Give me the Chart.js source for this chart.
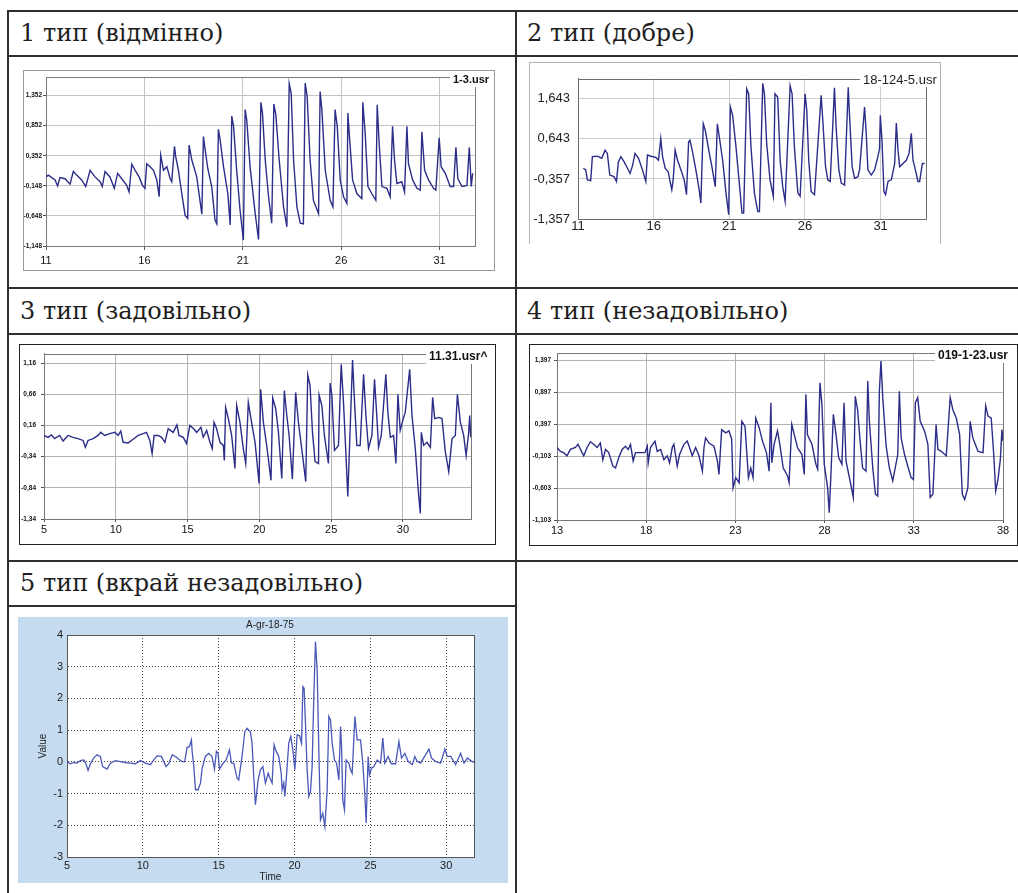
<!DOCTYPE html>
<html lang="uk">
<head>
<meta charset="utf-8">
<title>Типи кривих</title>
<script src="https://cdn.jsdelivr.net/npm/chart.js@4.4.1/dist/chart.umd.min.js"></script>
<style>
  html, body { margin: 0; padding: 0; background: #fff; }
  body { width: 1018px; height: 893px; position: relative; overflow: hidden; }
  .rule { position: absolute; background: #2f2f2f; }
  .head { position: absolute; font-family: "DejaVu Serif", serif; font-size: 24px; color: #1e1e1e; white-space: nowrap; }
  .box { position: absolute; box-sizing: border-box; background: #fff; }
  .box canvas { position: absolute; left: 0; top: 0; }
</style>
</head>
<body>

<!-- table rules -->
<div class="rule" style="left:7px;top:10px;width:1011px;height:2px"></div>
<div class="rule" style="left:7px;top:55px;width:1011px;height:2px"></div>
<div class="rule" style="left:7px;top:287px;width:1011px;height:2px"></div>
<div class="rule" style="left:7px;top:333px;width:1011px;height:2px"></div>
<div class="rule" style="left:7px;top:560px;width:1011px;height:2px"></div>
<div class="rule" style="left:7px;top:605px;width:510px;height:2px"></div>
<div class="rule" style="left:7px;top:10px;width:2px;height:883px"></div>
<div class="rule" style="left:515px;top:10px;width:2px;height:883px"></div>

<div class="head" style="left:20px;top:12px;line-height:43px">1 тип (відмінно)</div>
<div class="head" style="left:527px;top:12px;line-height:43px">2 тип (добре)</div>
<div class="head" style="left:20px;top:289px;line-height:44px">3 тип (задовільно)</div>
<div class="head" style="left:527px;top:289px;line-height:44px">4 тип (незадовільно)</div>
<div class="head" style="left:20px;top:562px;line-height:43px">5 тип (вкрай незадовільно)</div>

<div class="box" style="left:23px;top:70px;width:472px;height:201px;border:1px solid #9a9a9a">
  <canvas id="chart1" width="470" height="199"></canvas>
</div>
<div class="box" style="left:529px;top:62px;width:412px;height:182px;border:1px solid #b5b5b5;border-bottom:none">
  <canvas id="chart2" width="410" height="181"></canvas>
</div>
<div class="box" style="left:19px;top:344px;width:477px;height:201px;border:1px solid #222">
  <canvas id="chart3" width="475" height="199"></canvas>
</div>
<div class="box" style="left:529px;top:344px;width:489px;height:202px;border:1px solid #222">
  <canvas id="chart4" width="487" height="200"></canvas>
</div>
<div class="box" style="left:18px;top:617px;width:490px;height:266px;background:#c4dbf0">
  <canvas id="chart5" width="490" height="266"></canvas>
</div>

<script>
// ---- 1-3.usr ----
const p1Time = [11.00,11.12,11.46,11.59,11.71,11.97,12.22,12.39,12.56,12.81,13.02,13.24,13.49,13.75,13.86,14.00,14.25,14.47,14.64,14.85,15.10,15.22,15.36,15.53,15.73,15.90,16.03,16.12,16.29,16.46,16.63,16.75,16.83,16.97,17.14,17.31,17.39,17.53,17.59,17.73,17.90,18.07,18.20,18.27,18.41,18.66,18.92,19.00,19.08,19.22,19.42,19.59,19.68,19.76,19.85,20.02,20.24,20.36,20.44,20.53,20.69,20.86,21.03,21.12,21.20,21.37,21.63,21.80,21.92,22.00,22.14,22.31,22.47,22.58,22.68,22.85,23.07,23.24,23.36,23.46,23.58,23.75,23.92,24.08,24.17,24.27,24.42,24.59,24.85,24.93,25.02,25.19,25.44,25.58,25.69,25.80,25.95,26.12,26.29,26.34,26.42,26.58,26.80,27.05,27.10,27.22,27.36,27.56,27.76,27.83,27.93,28.07,28.32,28.49,28.61,28.71,28.83,29.08,29.22,29.34,29.42,29.63,29.85,30.02,30.10,30.24,30.44,30.69,30.81,30.98,31.08,31.29,31.54,31.71,31.83,31.93,32.14,32.39,32.51,32.61,32.68];
const p1Value = [0.00,0.03,-0.05,-0.15,-0.01,-0.03,-0.12,0.09,0.03,-0.05,-0.16,0.11,0.00,-0.08,-0.16,0.09,0.00,-0.19,0.06,-0.03,-0.14,-0.25,0.21,0.11,0.00,-0.14,-0.19,0.22,0.17,0.11,-0.05,-0.33,0.36,0.11,0.17,-0.03,-0.08,0.51,0.34,0.11,-0.28,-0.64,-0.69,0.53,0.28,0.00,-0.62,0.67,0.47,0.14,-0.16,-0.72,-0.78,0.79,0.61,0.17,-0.28,-0.80,1.01,0.84,0.11,-0.55,-1.05,1.12,0.95,0.17,-0.61,-1.04,1.24,1.06,0.28,-0.33,-0.77,1.21,1.03,0.28,-0.50,-0.83,1.55,1.39,0.28,-0.50,-0.77,-0.78,1.56,1.34,0.28,-0.39,-0.61,1.42,1.11,0.11,-0.39,-0.50,1.12,0.84,-0.05,-0.33,-0.44,1.06,0.67,-0.05,-0.28,-0.36,1.24,0.72,-0.16,-0.28,-0.39,1.20,0.56,-0.16,-0.19,-0.33,0.84,0.28,-0.11,-0.08,-0.25,0.84,0.22,-0.05,-0.19,-0.22,0.75,0.11,-0.05,-0.19,-0.22,0.65,0.17,0.06,-0.16,-0.16,0.49,-0.03,-0.16,-0.14,0.49,-0.16,0.06];
const p1XTicks = [11, 16, 21, 26, 31];
const p1YTicks = [-1.148, -0.648, -0.148, 0.352, 0.852, 1.352];

// ---- 18-124-5.usr ----
const p2Time = [11.35,11.51,11.62,11.84,11.95,12.28,12.57,12.79,12.94,13.10,13.38,13.54,13.67,13.83,14.05,14.27,14.44,14.60,14.77,15.00,15.26,15.48,15.59,15.81,16.14,16.32,16.47,16.59,16.76,16.96,17.20,17.29,17.42,17.58,17.80,18.02,18.17,18.31,18.40,18.57,18.79,19.01,19.12,19.28,19.41,19.68,19.85,20.07,20.21,20.34,20.56,20.78,20.96,21.07,21.22,21.44,21.66,21.84,21.95,22.15,22.28,22.43,22.66,22.88,22.99,23.21,23.32,23.47,23.69,23.91,24.02,24.20,24.36,24.53,24.69,25.02,25.15,25.30,25.53,25.68,26.01,26.12,26.25,26.41,26.63,27.07,27.18,27.36,27.51,27.67,27.95,28.06,28.24,28.40,28.62,28.86,28.95,29.12,29.28,29.50,29.61,29.94,30.05,30.16,30.38,30.60,30.82,30.93,30.98,31.09,31.22,31.33,31.49,31.71,31.93,32.04,32.15,32.26,32.48,32.70,32.88,33.03,33.14,33.25,33.47,33.58,33.76,33.91];
const p2Value = [-0.09,-0.13,-0.38,-0.40,0.20,0.21,0.16,0.36,0.28,-0.26,-0.30,-0.42,0.07,0.20,0.07,-0.09,-0.22,-0.03,0.28,0.16,-0.13,-0.42,0.24,0.21,0.18,0.11,0.65,0.20,-0.09,-0.18,-0.63,-0.38,0.36,0.11,-0.13,-0.38,-0.75,0.57,0.61,0.32,-0.13,-0.63,-0.96,1.02,0.86,0.28,-0.05,-0.55,1.02,0.69,0.11,-0.71,-1.25,1.44,1.23,0.45,-0.46,-1.21,-1.21,1.89,1.77,0.45,-0.71,-1.17,-1.17,2.03,1.77,0.53,-0.38,-0.79,1.77,1.68,0.11,-0.55,-0.92,1.97,1.77,0.45,-0.71,-0.79,1.77,1.35,0.11,-0.67,-0.75,1.73,1.11,-0.05,-0.38,-0.42,1.92,0.94,-0.13,-0.46,-0.51,1.93,1.19,-0.05,-0.34,-0.30,-0.13,1.44,0.78,-0.13,-0.26,-0.13,0.20,0.40,1.23,0.61,-0.67,-0.75,-0.42,-0.38,0.03,1.04,0.36,-0.05,0.03,0.11,0.28,0.78,0.11,-0.05,-0.42,-0.42,0.03,0.03];
const p2XTicks = [11, 16, 21, 26, 31];
const p2YTicks = [-1.357, -0.357, 0.643, 1.643];

// ---- 11.31.usr^ ----
const p3Time = [5.00,5.28,5.51,5.74,6.09,6.33,6.67,7.02,7.37,7.72,7.88,8.07,8.42,8.77,8.95,9.23,9.58,9.93,10.16,10.35,10.51,10.86,11.21,11.56,11.91,12.14,12.37,12.53,12.67,12.95,13.19,13.42,13.65,14.00,14.26,14.40,14.70,14.93,15.16,15.40,15.63,15.93,16.09,16.33,16.56,16.72,16.84,17.02,17.26,17.49,17.56,17.65,17.84,18.07,18.30,18.42,18.65,18.88,19.05,19.23,19.47,19.70,19.98,20.09,20.28,20.51,20.81,20.93,21.14,21.33,21.56,21.74,21.91,22.07,22.30,22.53,22.72,22.95,23.23,23.37,23.53,23.70,23.88,24.12,24.16,24.35,24.53,24.81,24.93,25.05,25.23,25.51,25.70,25.86,26.02,26.16,26.49,26.63,26.79,27.02,27.26,27.42,27.60,27.84,28.02,28.19,28.30,28.49,28.81,28.95,29.12,29.35,29.51,29.65,29.81,30.05,30.16,30.47,30.63,30.86,31.09,31.21,31.28,31.44,31.67,31.91,32.07,32.21,32.49,32.72,32.95,33.19,33.42,33.65,33.79,34.00,34.23,34.40,34.58,34.65,34.72];
const p3Value = [0.00,-0.03,0.01,-0.05,0.00,-0.09,0.00,-0.03,-0.05,-0.08,-0.19,-0.08,-0.05,0.00,0.05,0.00,0.03,0.05,0.00,0.07,-0.11,-0.12,-0.06,0.00,0.03,0.05,-0.08,-0.29,0.00,0.00,-0.03,-0.11,0.11,0.05,0.17,0.00,-0.03,-0.13,0.16,0.11,0.05,0.13,-0.03,0.08,-0.11,-0.21,0.21,0.11,-0.11,-0.16,-0.40,0.45,0.27,0.00,-0.53,0.48,0.21,-0.21,-0.45,0.53,0.19,-0.11,-0.77,0.74,0.21,-0.16,-0.72,0.60,0.43,0.05,-0.69,0.72,0.32,0.00,-0.70,0.69,0.21,-0.21,-0.74,0.97,0.80,0.05,-0.42,-0.45,0.65,0.48,0.00,-0.45,0.84,0.64,-0.24,-0.16,1.14,0.53,-0.26,-0.98,1.21,0.53,-0.16,-0.16,0.98,0.32,-0.21,0.00,0.90,0.27,-0.19,0.00,0.98,0.37,-0.03,0.00,-0.45,0.66,0.08,0.29,0.37,1.06,0.32,-0.21,-0.95,-1.25,0.05,-0.16,-0.11,-0.19,0.61,0.27,0.29,0.27,-0.26,-0.58,-0.05,0.00,0.66,0.21,0.00,-0.32,0.05,0.32,-0.03];
const p3XTicks = [5, 10, 15, 20, 25, 30];
const p3YTicks = [-1.34, -0.84, -0.34, 0.16, 0.66, 1.16];

// ---- 019-1-23.usr ----
const p4Time = [13.00,13.19,13.37,13.56,13.75,14.03,14.18,14.37,14.50,14.69,14.87,15.06,15.25,15.43,15.57,15.72,15.90,16.13,16.28,16.46,16.65,16.84,16.99,17.12,17.27,17.40,17.68,17.93,18.06,18.11,18.24,18.49,18.62,18.81,18.99,19.18,19.31,19.46,19.55,19.74,19.87,20.12,20.30,20.43,20.58,20.77,20.96,21.15,21.24,21.33,21.52,21.80,21.99,22.08,22.23,22.46,22.64,22.79,22.87,23.02,23.21,23.36,23.54,23.73,23.86,23.99,24.14,24.33,24.52,24.74,24.89,24.99,25.04,25.17,25.36,25.49,25.68,25.92,26.01,26.16,26.30,26.48,26.73,26.86,26.95,27.04,27.29,27.51,27.61,27.74,27.85,27.98,28.17,28.26,28.36,28.49,28.64,28.79,28.97,29.09,29.20,29.39,29.61,29.72,29.85,29.99,30.13,30.32,30.42,30.51,30.70,30.85,30.98,31.07,31.16,31.26,31.45,31.63,31.82,32.10,32.19,32.29,32.48,32.66,32.85,32.98,33.09,33.22,33.36,33.60,33.79,33.92,34.07,34.25,34.35,34.54,34.82,35.04,35.19,35.38,35.57,35.72,35.85,36.03,36.16,36.31,36.60,36.88,37.03,37.16,37.34,37.48,37.59,37.72,37.85,37.94,38.00];
const p4Value = [0.03,-0.03,-0.05,-0.10,0.00,0.03,0.08,-0.03,-0.10,0.03,0.12,0.08,0.03,0.10,-0.16,0.00,-0.05,-0.26,-0.29,-0.13,0.00,0.05,0.00,0.08,-0.18,-0.05,-0.05,-0.05,0.05,-0.21,0.03,0.13,-0.03,0.00,-0.16,-0.10,-0.21,0.03,0.08,-0.26,-0.08,0.08,0.13,0.03,-0.10,0.03,-0.10,-0.34,0.03,0.18,0.10,0.05,-0.18,-0.39,0.31,0.26,0.29,0.16,-0.60,-0.44,-0.52,0.44,0.36,-0.44,-0.29,-0.44,0.49,0.34,0.13,-0.05,-0.34,0.73,-0.21,0.08,0.29,0.08,-0.29,-0.41,-0.52,0.39,0.23,0.03,-0.08,-0.39,0.86,0.23,0.08,-0.23,-0.31,1.04,0.70,-0.23,-0.60,-0.99,-0.36,0.55,0.23,-0.13,-0.23,0.73,-0.18,-0.44,-0.75,0.83,0.62,0.13,-0.29,-0.34,1.07,0.44,-0.29,-0.70,-0.73,0.91,1.38,0.81,0.05,-0.29,-0.49,-0.08,0.91,0.18,-0.08,-0.26,-0.44,-0.47,0.73,0.81,0.44,0.29,0.08,-0.75,-0.70,0.39,0.00,-0.03,-0.10,0.81,0.62,0.49,0.23,-0.70,-0.78,-0.60,0.44,0.18,-0.03,-0.05,0.68,0.52,0.49,-0.08,-0.65,-0.47,-0.16,0.31,0.13];
const p4XTicks = [13, 18, 23, 28, 33, 38];
const p4YTicks = [-1.103, -0.603, -0.103, 0.397, 0.897, 1.397];

// ---- A-gr-18-75 ----
const p5Time = [5.00,5.22,5.44,5.66,5.88,6.10,6.25,6.39,6.54,6.76,6.98,7.20,7.35,7.64,7.86,8.19,8.52,8.85,9.18,9.51,9.84,10.17,10.50,10.72,10.94,11.22,11.53,11.71,11.93,12.15,12.37,12.59,12.76,12.92,13.07,13.20,13.25,13.36,13.47,13.64,13.80,13.91,14.12,14.34,14.56,14.72,14.85,14.96,15.05,15.27,15.49,15.71,15.84,15.99,16.21,16.32,16.54,16.72,16.87,17.09,17.20,17.31,17.42,17.60,17.75,17.91,18.08,18.26,18.37,18.52,18.65,18.79,18.96,19.12,19.18,19.29,19.36,19.45,19.62,19.75,19.89,20.02,20.17,20.33,20.46,20.55,20.63,20.72,20.83,20.94,21.05,21.16,21.27,21.38,21.49,21.60,21.71,21.86,22.00,22.15,22.26,22.37,22.48,22.63,22.77,22.92,23.03,23.10,23.18,23.29,23.40,23.58,23.69,23.80,23.98,24.13,24.35,24.50,24.63,24.72,24.85,24.94,25.07,25.23,25.45,25.67,25.82,25.95,26.17,26.39,26.66,26.88,27.05,27.27,27.49,27.76,27.93,28.09,28.31,28.86,29.03,29.30,29.63,29.91,30.07,30.29,30.62,30.95,31.17,31.39,31.61,31.83];
const p5Value = [0.01,-0.06,-0.02,-0.04,0.04,0.06,-0.06,-0.27,-0.06,0.12,0.22,0.17,-0.15,-0.23,-0.04,0.04,0.01,-0.02,-0.04,-0.06,0.04,-0.04,-0.09,0.06,0.19,0.17,-0.15,-0.06,0.22,0.17,0.08,0.01,0.01,0.46,0.48,0.69,0.33,-0.15,-0.88,-0.88,-0.67,-0.20,0.17,0.27,0.17,-0.23,0.33,0.27,-0.23,-0.06,0.06,0.38,-0.04,-0.04,-0.51,-0.57,0.17,0.95,1.06,0.95,0.59,-0.46,-1.35,-0.57,-0.25,-0.15,-0.67,-0.36,-0.51,-0.67,0.54,0.33,0.17,-0.36,-0.88,-0.67,-1.09,-0.57,0.59,0.80,0.38,-0.25,0.85,0.82,0.59,2.37,2.32,1.22,-0.25,-1.09,-0.93,-0.15,2.06,3.79,2.90,0.38,-1.83,-1.62,-2.04,-0.88,1.43,1.32,0.59,0.06,-0.04,-0.57,1.11,0.48,-1.20,-1.51,0.06,-0.04,-0.25,-0.36,1.43,0.69,0.69,-0.04,-0.99,-1.93,0.17,-0.41,-0.20,-0.15,0.06,-0.04,0.75,-0.04,0.17,-0.06,-0.06,0.64,0.12,0.27,0.01,-0.09,0.17,0.01,-0.04,0.40,0.12,0.01,-0.04,0.40,0.17,0.17,-0.09,0.27,-0.04,0.12,0.04,-0.02];
const p5XTicks = [5, 10, 15, 20, 25, 30];
const p5YTicks = [-3, -2, -1, 0, 1, 2, 3, 4];

// white plot area plus a box around it (top and right sides are not drawn by the axes)
const frameBox = {
  id: 'frameBox',
  beforeDraw(chart, args, opts) {
    const a = chart.chartArea;
    const ctx = chart.ctx;
    ctx.save();
    ctx.fillStyle = opts.fill || '#fff';
    ctx.fillRect(a.left, a.top, a.right - a.left, a.bottom - a.top);
    ctx.restore();
  },
  beforeDatasetsDraw(chart, args, opts) {
    const a = chart.chartArea;
    const ctx = chart.ctx;
    ctx.save();
    ctx.strokeStyle = opts.color || '#888';
    ctx.lineWidth = 1;
    ctx.strokeRect(Math.round(a.left) + 0.5, Math.round(a.top) + 0.5,
      Math.round(a.right - a.left), Math.round(a.bottom - a.top));
    ctx.restore();
  }
};

// file name label in the corner
const fileTag = {
  id: 'fileTag',
  afterDraw(chart, args, opts) {
    if (!opts.text) return;
    const ctx = chart.ctx;
    ctx.save();
    ctx.font = opts.font;
    ctx.textBaseline = 'middle';
    ctx.textAlign = opts.align || 'left';
    if (opts.box) {
      ctx.fillStyle = '#fff';
      ctx.fillRect(opts.x - 3, 0, chart.width - opts.x + 3, opts.y + 7);
    }
    ctx.fillStyle = opts.color || '#111';
    ctx.fillText(opts.text, opts.x, opts.y);
    ctx.restore();
  }
};

Chart.register(frameBox, fileTag);

const comma = d => v => v.toFixed(d).replace('.', ',');

function drawTrace(id, time, value, s) {
  const points = time.map((t, i) => ({ x: t, y: value[i] }));
  return new Chart(document.getElementById(id), {
    type: 'line',
    data: {
      datasets: [{
        data: points,
        borderColor: s.line,
        borderWidth: s.lineWidth,
        pointRadius: 0,
        tension: 0,
        fill: false
      }]
    },
    options: {
      responsive: false,
      animation: false,
      events: [],
      layout: { padding: s.padding },
      plugins: {
        legend: { display: false },
        tooltip: { enabled: false },
        frameBox: { color: s.frame },
        fileTag: s.tag
      },
      scales: {
        x: {
          type: 'linear',
          min: s.xMin,
          max: s.xMax,
          afterBuildTicks: sc => { sc.ticks = s.xTicks.map(v => ({ value: v })); },
          afterFit: sc => { sc.height = s.xHeight; },
          ticks: {
            font: s.xFont,
            color: s.tickColor || '#111',
            padding: s.xPad,
            maxRotation: 0,
            autoSkip: false,
            callback: v => String(v)
          },
          grid: {
            color: s.grid,
            drawTicks: s.xTickLen > 0,
            tickLength: s.xTickLen,
            tickColor: s.tickMark || '#555'
          },
          border: { color: s.frame, dash: s.dash || [] },
          title: s.xTitle || { display: false }
        },
        y: {
          min: s.yMin,
          max: s.yMax,
          afterBuildTicks: sc => { sc.ticks = s.yTicks.map(v => ({ value: v })); },
          afterFit: sc => { sc.width = s.yWidth; },
          ticks: {
            font: s.yFont,
            color: s.tickColor || '#111',
            padding: s.yPad,
            autoSkip: false,
            callback: s.yFormat
          },
          grid: {
            color: s.grid,
            drawTicks: s.yTickLen > 0,
            tickLength: s.yTickLen,
            tickColor: s.tickMark || '#555'
          },
          border: { color: s.frame, dash: s.dash || [] },
          title: s.yTitle || { display: false }
        }
      }
    }
  });
}

const SANS = 'Liberation Sans, Arial, sans-serif';
const NAVY = '#2b2d88';

drawTrace('chart1', p1Time, p1Value, {
  xMin: 11, xMax: 32.8, yMin: -1.148, yMax: 1.66,
  xTicks: p1XTicks, yTicks: p1YTicks, yFormat: comma(3),
  padding: { top: 6, right: 19, left: 0, bottom: 0 },
  yWidth: 22, xHeight: 24,
  xFont: { family: SANS, size: 11 }, yFont: { family: SANS, size: 6.5, weight: 'bold' },
  xPad: 4, yPad: 1, xTickLen: 4, yTickLen: 3,
  grid: '#c4c4c4', frame: '#7a7a7a', line: NAVY, lineWidth: 1.4,
  tag: { text: '1-3.usr', x: 429, y: 9, font: 'bold 11px ' + SANS, box: true }
});

drawTrace('chart2', p2Time, p2Value, {
  xMin: 11, xMax: 34, yMin: -1.357, yMax: 2.143,
  xTicks: p2XTicks, yTicks: p2YTicks, yFormat: comma(3),
  padding: { top: 15, right: 14, left: 0, bottom: 0 },
  yWidth: 48, xHeight: 25,
  xFont: { family: SANS, size: 13 }, yFont: { family: SANS, size: 13 },
  xPad: 0, yPad: 8, xTickLen: 0, yTickLen: 0, tickColor: '#222',
  grid: '#cfcfcf', frame: '#6e6e6e', line: NAVY, lineWidth: 1.4,
  tag: { text: '18-124-5.usr', x: 333, y: 17, font: '13px ' + SANS, box: true, color: '#222' }
});

drawTrace('chart3', p3Time, p3Value, {
  xMin: 5, xMax: 34.74, yMin: -1.34, yMax: 1.308,
  xTicks: p3XTicks, yTicks: p3YTicks, yFormat: comma(2),
  padding: { top: 8, right: 24, left: 0, bottom: 0 },
  yWidth: 24, xHeight: 25,
  xFont: { family: SANS, size: 11 }, yFont: { family: SANS, size: 6.5, weight: 'bold' },
  xPad: 1, yPad: 5, xTickLen: 3, yTickLen: 3,
  grid: '#b4b4b4', frame: '#777', line: NAVY, lineWidth: 1.4,
  tag: { text: '11.31.usr^', x: 409, y: 12, font: 'bold 12px ' + SANS, box: true }
});

drawTrace('chart4', p4Time, p4Value, {
  xMin: 13, xMax: 38, yMin: -1.103, yMax: 1.507,
  xTicks: p4XTicks, yTicks: p4YTicks, yFormat: comma(3),
  padding: { top: 8, right: 14, left: 0, bottom: 0 },
  yWidth: 27, xHeight: 25,
  xFont: { family: SANS, size: 11 }, yFont: { family: SANS, size: 6.5, weight: 'bold' },
  xPad: 1, yPad: 3, xTickLen: 3, yTickLen: 3,
  grid: '#b4b4b4', frame: '#777', line: NAVY, lineWidth: 1.4,
  tag: { text: '019-1-23.usr', x: 408, y: 11, font: 'bold 12px ' + SANS, box: true }
});

drawTrace('chart5', p5Time, p5Value, {
  xMin: 5, xMax: 31.83, yMin: -3, yMax: 4,
  xTicks: p5XTicks, yTicks: p5YTicks, yFormat: v => String(v),
  padding: { top: 18, right: 34, left: 0, bottom: 0 },
  yWidth: 49, xHeight: 26,
  xFont: { family: SANS, size: 11 }, yFont: { family: SANS, size: 11 },
  xPad: 2, yPad: 4, xTickLen: 0, yTickLen: 0, tickColor: '#222',
  grid: '#444', dash: [1, 2], frame: '#555', line: '#4a58b8', lineWidth: 1.3,
  xTitle: { display: true, text: 'Time', color: '#222', font: { family: SANS, size: 10 }, padding: { top: 0, bottom: 0 } },
  yTitle: { display: true, text: 'Value', color: '#222', font: { family: SANS, size: 10 }, padding: { top: 19, bottom: 0 } },
  tag: { text: 'A-gr-18-75', x: 252, y: 8, font: '10px ' + SANS, align: 'center', color: '#222' }
});
</script>
</body>
</html>
